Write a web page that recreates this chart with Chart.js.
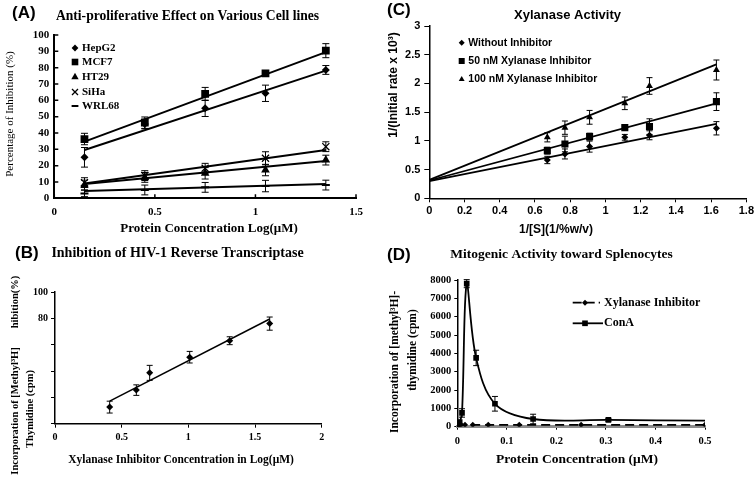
<!DOCTYPE html>
<html>
<head>
<meta charset="utf-8">
<script src="https://cdn.jsdelivr.net/npm/chart.js@4.4.1/dist/chart.umd.min.js"></script>
<style>
    body { margin: 0; background: #fff; width: 756px; height: 486px; position: relative; overflow: hidden; }
    canvas { position: absolute; }
</style>
</head>
<body>
<canvas id="chartA" width="378" height="240" style="left:0;top:0"></canvas>
<canvas id="chartC" width="378" height="240" style="left:378px;top:0"></canvas>
<canvas id="chartB" width="378" height="246" style="left:0;top:240px"></canvas>
<canvas id="chartD" width="378" height="246" style="left:378px;top:240px"></canvas>
<script>
const SERIF = '"Liberation Serif", "Times New Roman", serif';
const SANS = '"Liberation Sans", Arial, sans-serif';

// (A) anti-proliferative effect
const aNames = ['HepG2', 'MCF7', 'HT29', 'SiHa', 'WRL68'];
const aDoses = [0.15, 0.45, 0.75, 1.05, 1.35];
const aHepG2 = [25.1, 45.5, 55.1, 64.3, 78.6];
const aHepG2Err = [6, 3, 5, 5, 2.7];
const aMCF7 = [36.3, 46.3, 63.9, 76.5, 90.4];
const aMCF7Err = [3.5, 3.5, 4, 1.5, 4.3];
const aHT29 = [8.1, 12.8, 15.3, 17.3, 23.4];
const aHT29Err = [3, 3, 3.5, 3.5, 3];
const aSiHa = [9.6, 13.9, 18.4, 24.5, 31.6];
const aSiHaErr = [3, 3, 3, 4, 3];
const aWRL68 = [3, 5.1, 6.7, 7.5, 8.1];
const aWRL68Err = [2, 3, 3, 3.5, 3];
const aFitX = [0.15, 1.35];
const aFitHepG2 = [29.6, 78.2];
const aFitMCF7 = [34.7, 89.5];
const aFitHT29 = [8.8, 22.8];
const aFitSiHa = [9, 29.6];
const aFitWRL68 = [4.5, 8.8];
const aXTicks = [0, 0.5, 1, 1.5];
const aXLabels = ['0', '0.5', '1', '1.5'];
const aYTicks = [0, 10, 20, 30, 40, 50, 60, 70, 80, 90, 100];
const aYLabels = ['0', '10', '20', '30', '40', '50', '60', '70', '80', '90', '100'];

// (C) xylanase activity
const cNames = ['Without Inhibitor', '50 nM Xylanase Inhibitor', '100 nM Xylanase Inhibitor'];
const cInvS = [0.67, 0.77, 0.91, 1.11, 1.25, 1.63];
const cNone = [0.667, 0.772, 0.90, 1.062, 1.097, 1.219];
const cNoneErr = [0.064, 0.087, 0.096, 0.05, 0.078, 0.116];
const c50 = [0.83, 0.946, 1.074, 1.23, 1.248, 1.683];
const c50Err = [0.06, 0.136, 0.06, 0.03, 0.136, 0.154];
const c100 = [1.062, 1.23, 1.41, 1.654, 1.956, 2.234];
const c100Err = [0.08, 0.116, 0.12, 0.11, 0.145, 0.174];
const cFitX = [0, 1.63];
const cFitNone = [0.3, 1.294];
const cFit50 = [0.31, 1.654];
const cFit100 = [0.32, 2.333];
const cXTicks = [0, 0.2, 0.4, 0.6, 0.8, 1, 1.2, 1.4, 1.6, 1.8];
const cXLabels = ['0', '0.2', '0.4', '0.6', '0.8', '1', '1.2', '1.4', '1.6', '1.8'];
const cYTicks = [0, 0.5, 1, 1.5, 2, 2.5, 3];
const cYLabels = ['0', '0.5', '1', '1.5', '2', '2.5', '3'];

// (B) HIV-1 reverse transcriptase
const bLogConc = [0.41, 0.61, 0.71, 1.01, 1.31, 1.61];
const bInhib = [12.6, 25.5, 38.6, 50.5, 63, 76];
const bInhibErr = [4.5, 4, 5.7, 4.4, 3, 5];
const bFitX = [0.41, 1.61];
const bFitY = [17.2, 79.5];
const bXTicks = [0, 0.5, 1, 1.5, 2];
const bXLabels = ['0', '0.5', '1', '1.5', '2'];
const bYTicks = [0, 20, 40, 60, 80, 100];
const bYLabels = ['', '', '', '', '80', '100'];

// (D) mitogenic activity
const dNames = ['Xylanase Inhibitor', 'ConA'];
const dInhibX = [0, 0.002, 0.0039, 0.0078, 0.0156, 0.03125, 0.0625, 0.125, 0.25, 0.5];
const dInhibY = [60, 90, 100, 100, 100, 100, 100, 100, 100, 100];
const dConAX = [0, 0.0012, 0.0024, 0.0048, 0.0095, 0.019, 0.038, 0.076, 0.153, 0.305, 0.5];
const dConAY = [100, 150, 200, 250, 750, 7800, 3750, 1250, 420, 370, 330];
const dConAErr = [0, 0, 0, 0, 230, 220, 420, 400, 260, 80, 0];
const dConAMarks = [4, 4, 4, 4, 4, 4, 4, 4, 4, 4, 0];
const dXTicks = [0, 0.1, 0.2, 0.3, 0.4, 0.5];
const dXLabels = ['0', '0.1', '0.2', '0.3', '0.4', '0.5'];
const dYTicks = [0, 1000, 2000, 3000, 4000, 5000, 6000, 7000, 8000];
const dYLabels = ['0', '1000', '2000', '3000', '4000', '5000', '6000', '7000', '8000'];

function pts(xs, ys) {
    return xs.map((x, i) => ({ x: x, y: ys[i] }));
}

function markers(label, xs, ys, errs, style, r, bw) {
    return {
        label: label, data: pts(xs, ys), errors: errs, showLine: false,
        pointStyle: style, pointRadius: r, pointHoverRadius: r,
        pointBackgroundColor: '#000', pointBorderColor: '#000', pointBorderWidth: bw || 0
    };
}

function fitLine(xs, ys, w, dash) {
    return {
        data: pts(xs, ys), showLine: true, pointRadius: 0, pointHoverRadius: 0,
        borderColor: '#000', borderWidth: w, borderDash: dash || [], tension: 0
    };
}

function axis(o) {
    return {
        type: 'linear', min: o.min, max: o.max,
        afterBuildTicks: s => { s.ticks = o.ticks.map(v => ({ value: v })); },
        ticks: {
            autoSkip: false, maxRotation: 0, minRotation: 0, padding: o.pad, color: '#000', font: o.font,
            callback: v => o.labels[o.ticks.indexOf(v)]
        },
        grid: { display: o.tl > 0, drawOnChartArea: false, drawTicks: true, tickLength: o.tl, color: '#000', lineWidth: 1 },
        border: { display: true, color: o.bc || '#000', width: o.bw || 1.5 }
    };
}

const errorBars = {
    id: 'errorBars',
    afterDatasetsDraw(chart, args, opts) {
        const ctx = chart.ctx, ys = chart.scales.y;
        chart.data.datasets.forEach((ds, i) => {
            if (!ds.errors) return;
            const meta = chart.getDatasetMeta(i);
            ctx.save();
            ctx.strokeStyle = '#000';
            ctx.lineWidth = 1;
            meta.data.forEach((pt, j) => {
                const e = ds.errors[j];
                if (!e) return;
                const v = ds.data[j].y;
                const top = ys.getPixelForValue(v + e), bot = ys.getPixelForValue(v - e);
                const c = opts.cap || 3;
                ctx.beginPath();
                ctx.moveTo(pt.x, top); ctx.lineTo(pt.x, bot);
                ctx.moveTo(pt.x - c, top); ctx.lineTo(pt.x + c, top);
                ctx.moveTo(pt.x - c, bot); ctx.lineTo(pt.x + c, bot);
                ctx.stroke();
            });
            ctx.restore();
        });
    }
};

function drawMark(ctx, style, r, bw, x, y) {
    if (Chart.helpers && Chart.helpers.drawPoint) {
        Chart.helpers.drawPoint(ctx, { pointStyle: style, radius: r, rotation: 0, borderWidth: bw }, x, y);
    } else {
        ctx.fillRect(x - r * 0.7, y - r * 0.7, r * 1.4, r * 1.4);
    }
}

const decor = {
    id: 'decor',
    afterDraw(chart, args, o) {
        const ctx = chart.ctx;
        ctx.save();
        ctx.fillStyle = '#000';
        ctx.strokeStyle = '#000';
        if (o.insideTicks) {
            const a = chart.chartArea, sx = chart.scales.x, sy = chart.scales.y;
            ctx.lineWidth = 1.5;
            ctx.beginPath();
            sx.ticks.forEach(t => { const p = sx.getPixelForValue(t.value); ctx.moveTo(p, a.bottom); ctx.lineTo(p, a.bottom - o.insideTicks); });
            sy.ticks.forEach(t => { const p = sy.getPixelForValue(t.value); ctx.moveTo(a.left, p); ctx.lineTo(a.left + o.insideTicks, p); });
            ctx.stroke();
        }
        (o.legend || []).forEach(it => {
            if (it.line) {
                ctx.save();
                ctx.lineWidth = it.line.w;
                ctx.setLineDash(it.line.dash || []);
                ctx.beginPath();
                ctx.moveTo(it.line.x1, it.y); ctx.lineTo(it.line.x2, it.y);
                ctx.stroke();
                ctx.restore();
            }
            ctx.lineWidth = it.bw || 1;
            drawMark(ctx, it.style, it.r, it.bw || 0, it.mx, it.y);
            ctx.font = it.font;
            ctx.textAlign = 'left';
            ctx.textBaseline = 'middle';
            ctx.fillText(it.text, it.tx, it.y);
        });
        (o.texts || []).forEach(t => {
            ctx.save();
            ctx.font = t.font;
            ctx.textAlign = t.align || 'center';
            ctx.textBaseline = 'middle';
            ctx.translate(t.x, t.y);
            if (t.rot) ctx.rotate(-Math.PI / 2);
            ctx.fillText(t.text, 0, 0);
            ctx.restore();
        });
        ctx.restore();
    }
};

Chart.register(errorBars, decor);

function panel(id, area, datasets, xAx, yAx, cap, decorOpts) {
    const cv = document.getElementById(id);
    const W = cv.width, H = cv.height;
    const yW = area.l - 4, xH = H - area.b - 6;
    xAx.afterFit = s => { s.height = xH; };
    yAx.afterFit = s => { s.width = yW; };
    return new Chart(cv.getContext('2d'), {
        type: 'scatter',
        data: { datasets: datasets },
        options: {
            responsive: false, animation: false, events: [],
            layout: { padding: { left: 4, top: area.t, right: W - area.r, bottom: 6 } },
            scales: { x: xAx, y: yAx },
            plugins: {
                legend: { display: false }, tooltip: { enabled: false },
                errorBars: { cap: cap }, decor: decorOpts
            }
        }
    });
}

// ---------- A ----------
const aTick = { family: SERIF, size: 11, weight: 'bold' };
const aStyles = [['rectRot', 4, 0], ['rect', 5.5, 0], ['triangle', 5, 0], ['crossRot', 5, 1.3], ['line', 4, 2]];
const aSeries = [aHepG2, aMCF7, aHT29, aSiHa, aWRL68];
const aErrs = [aHepG2Err, aMCF7Err, aHT29Err, aSiHaErr, aWRL68Err];
const aFits = [aFitHepG2, aFitMCF7, aFitHT29, aFitSiHa, aFitWRL68];
const aLegY = [48, 62, 77, 92, 106];
panel('chartA', { l: 54.3, t: 35, r: 356, b: 198.3 },
    aFits.map(f => fitLine(aFitX, f, 2)).concat(
        aSeries.map((s, i) => markers(aNames[i], aDoses, s, aErrs[i], aStyles[i][0], aStyles[i][1], aStyles[i][2]))),
    axis({ min: 0, max: 1.5, ticks: aXTicks, labels: aXLabels, tl: 0, pad: 7, font: aTick, bw: 2 }),
    axis({ min: 0, max: 100, ticks: aYTicks, labels: aYLabels, tl: 0, pad: 5, font: aTick, bw: 2 }),
    3.5,
    {
        insideTicks: 4,
        legend: aNames.map((n, i) => ({ text: n, style: aStyles[i][0], r: aStyles[i][1] * 0.85, bw: aStyles[i][2], mx: 75, tx: 82, y: aLegY[i], font: 'bold 11px ' + SERIF })),
        texts: [
            { text: '(A)', x: 12, y: 13, align: 'left', font: 'bold 17px ' + SANS },
            { text: 'Anti-proliferative Effect on Various Cell lines', x: 187.5, y: 16, font: 'bold 13.6px ' + SERIF },
            { text: 'Protein Concentration Log(\u03bcM)', x: 209, y: 229, font: 'bold 13px ' + SERIF },
            { text: 'Percentage of Inhibition (%)', x: 10, y: 114, rot: true, font: '11px ' + SERIF }
        ]
    });

// ---------- C ----------
const cTick = { family: SANS, size: 11, weight: 'bold' };
const cStyles = [['rectRot', 3.5], ['rect', 5], ['triangle', 4]];
const cSeries = [cNone, c50, c100];
const cErrs = [cNoneErr, c50Err, c100Err];
const cFits = [cFitNone, cFit50, cFit100];
const cLegY = [42.7, 61, 79.3];
panel('chartC', { l: 51.3, t: 26, r: 368.7, b: 198.3 },
    cFits.map(f => fitLine(cFitX, f, 1.8)).concat(
        cSeries.map((s, i) => markers(cNames[i], cInvS, s, cErrs[i], cStyles[i][0], cStyles[i][1]))),
    axis({ min: 0, max: 1.8, ticks: cXTicks, labels: cXLabels, tl: 4, pad: 2, font: cTick }),
    axis({ min: 0, max: 3, ticks: cYTicks, labels: cYLabels, tl: 5, pad: 4, font: cTick }),
    3,
    {
        legend: cNames.map((n, i) => ({ text: n, style: cStyles[i][0], r: cStyles[i][1] * 0.85, mx: 83.7, tx: 90.3, y: cLegY[i], font: 'bold 10.5px ' + SANS })),
        texts: [
            { text: '(C)', x: 9, y: 10, align: 'left', font: 'bold 17px ' + SANS },
            { text: 'Xylanase Activity', x: 189.5, y: 15, font: 'bold 13px ' + SANS },
            { text: '1/[S](1/%w/v)', x: 178, y: 230, font: 'bold 12px ' + SANS },
            { text: '1/(Initial rate x 10\u00b3)', x: 16, y: 85, rot: true, font: 'bold 12px ' + SANS }
        ]
    });

// ---------- B ----------
const bTick = { family: SERIF, size: 10, weight: 'bold' };
panel('chartB', { l: 55, t: 52, r: 321.7, b: 183.7 },
    [fitLine(bFitX, bFitY, 1.5), markers('Inhibition', bLogConc, bInhib, bInhibErr, 'rectRot', 3.5)],
    axis({ min: 0, max: 2, ticks: bXTicks, labels: bXLabels, tl: 4, pad: 4, font: bTick }),
    axis({ min: 0, max: 100, ticks: bYTicks, labels: bYLabels, tl: 4, pad: 3, font: bTick }),
    3,
    {
        texts: [
            { text: '(B)', x: 15, y: 13, align: 'left', font: 'bold 17px ' + SANS },
            { text: 'Inhibition of HIV-1 Reverse Transcriptase', x: 177.5, y: 13, font: 'bold 14px ' + SERIF },
            { text: 'Xylanase Inhibitor Concentration in Log(\u03bcM)', x: 181, y: 220, font: 'bold 11.5px ' + SERIF },
            { text: 'Incorporation of [Methyl\u00b3H]', x: 15, y: 171, rot: true, font: 'bold 10.5px ' + SERIF },
            { text: 'Thymidine (cpm)', x: 30, y: 169, rot: true, font: 'bold 10.5px ' + SERIF },
            { text: 'hibition(%)', x: 15, y: 62, rot: true, font: 'bold 10.5px ' + SERIF }
        ]
    });

// ---------- D ----------
const dTick = { family: SERIF, size: 10.5, weight: 'bold' };
const dInhib = markers(dNames[0], dInhibX, dInhibY, null, 'rectRot', 3);
dInhib.showLine = true; dInhib.borderColor = '#000'; dInhib.borderWidth = 1.8; dInhib.borderDash = [9, 5];
const dConA = markers(dNames[1], dConAX, dConAY, dConAErr, 'rect', 4);
dConA.pointRadius = dConAMarks;
dConA.showLine = true; dConA.borderColor = '#000'; dConA.borderWidth = 1.8; dConA.tension = 0.35;
panel('chartD', { l: 79.3, t: 40, r: 327, b: 186.7 },
    [dInhib, dConA],
    axis({ min: 0, max: 0.5, ticks: dXTicks, labels: dXLabels, tl: 3, pad: 5, font: dTick, bc: '#8c8c8c', bw: 3 }),
    axis({ min: 0, max: 8000, ticks: dYTicks, labels: dYLabels, tl: 3, pad: 3, font: dTick }),
    3,
    {
        legend: [
            { text: dNames[0], style: 'rectRot', r: 3, mx: 207, tx: 226, y: 62.7, font: 'bold 12px ' + SERIF, line: { x1: 194.7, x2: 222, w: 1.8, dash: [9, 4] } },
            { text: dNames[1], style: 'rect', r: 4, mx: 207, tx: 226, y: 83.3, font: 'bold 12px ' + SERIF, line: { x1: 194.7, x2: 225, w: 1.8 } }
        ],
        texts: [
            { text: '(D)', x: 9, y: 15, align: 'left', font: 'bold 17px ' + SANS },
            { text: 'Mitogenic Activity toward Splenocytes', x: 183.5, y: 15, font: 'bold 13.5px ' + SERIF },
            { text: 'Protein Concentration (\u03bcM)', x: 199, y: 220, font: 'bold 13.5px ' + SERIF },
            { text: 'Incorporation of [methyl\u00b3H]-', x: 17, y: 122, rot: true, font: 'bold 11.5px ' + SERIF },
            { text: 'thymidine (cpm)', x: 35, y: 110, rot: true, font: 'bold 11.5px ' + SERIF }
        ]
    });
</script>
</body>
</html>
